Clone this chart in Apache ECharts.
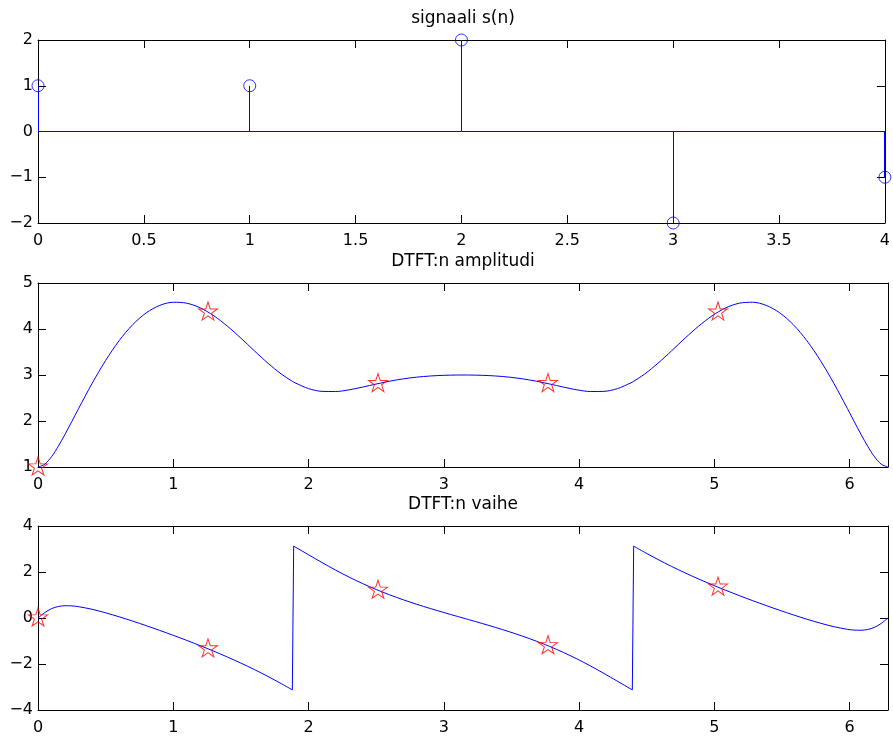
<!DOCTYPE html>
<html>
<head>
<meta charset="utf-8">
<script src="https://cdn.jsdelivr.net/npm/echarts@6/dist/echarts.min.js"></script>
<style>
  html, body { margin: 0; padding: 0; background: #fff; }
  #chart { width: 893px; height: 738px; }
</style>
</head>
<body>
<div id="chart"></div>
<script>
// Signal s(n)
const n = [0, 1, 2, 3, 4];
const s = [1, 1, 2, -2, -1];

// DTFT samples on 0..2*pi (frequency, amplitude, phase)
const freq = [
  0, 0.05, 0.1, 0.15, 0.2, 0.25, 0.3, 0.4, 0.5, 0.6, 0.7, 0.8, 0.9, 1.0,
  1.1, 1.2, 1.3, 1.4, 1.5, 1.6, 1.7, 1.8, 1.88, 1.89, 1.9, 2.0, 2.1, 2.2,
  2.3, 2.4, 2.5, 2.6, 2.7, 2.8, 2.9, 3.0, 3.1, 3.1416,
  3.1832, 3.2832, 3.3832, 3.4832, 3.5832, 3.6832, 3.7832, 3.8832, 3.9832,
  4.0832, 4.1832, 4.2832, 4.3832, 4.3932, 4.4032, 4.4832, 4.5832, 4.6832,
  4.7832, 4.8832, 4.9832, 5.0832, 5.1832, 5.2832, 5.3832, 5.4832, 5.5832,
  5.6832, 5.7832, 5.8832, 5.9832, 6.0332, 6.0832, 6.1332, 6.1832, 6.2332, 6.2832
];
const amplitude = [
  1.0000, 1.0605, 1.2230, 1.4501, 1.7119, 1.9892, 2.2705, 2.8177, 3.3169, 3.7469,
  4.0943, 4.3510, 4.5133, 4.5818, 4.5608, 4.4587, 4.2873, 4.0619, 3.8008, 3.5247,
  3.2562, 3.0179, 2.8625, 2.8457, 2.8296, 2.7041, 2.6440, 2.6407, 2.6779, 2.7376,
  2.8038, 2.8654, 2.9160, 2.9535, 2.9785, 2.9931, 2.9994, 3.0000,
  2.9994, 2.9931, 2.9785, 2.9535, 2.9160, 2.8654, 2.8038, 2.7376, 2.6779,
  2.6407, 2.6440, 2.7041, 2.8296, 2.8457, 2.8625, 3.0179, 3.2562, 3.5247,
  3.8008, 4.0619, 4.2873, 4.4587, 4.5608, 4.5818, 4.5133, 4.3510, 4.0943,
  3.7469, 3.3169, 2.8177, 2.2705, 1.9892, 1.7119, 1.4501, 1.2230, 1.0605, 1.0000
];
const phase = [
  0.0000, 0.2359, 0.4063, 0.4991, 0.5325, 0.5259, 0.4927, 0.3779, 0.2256, 0.0519,
  -0.1357, -0.3334, -0.5396, -0.7534, -0.9751, -1.2053, -1.4452, -1.6966, -1.9616, -2.2427,
  -2.5418, -2.8593, -3.1249, 3.1246, 3.0907, 2.7489, 2.4091, 2.0823, 1.7766, 1.4956,
  1.2395, 1.0062, 0.7927, 0.5959, 0.4121, 0.2379, 0.0694, 0.0000,
  -0.0694, -0.2379, -0.4121, -0.5959, -0.7927, -1.0062, -1.2395, -1.4956, -1.7766,
  -2.0823, -2.4091, -2.7489, -3.0907, -3.1246, 3.1249, 2.8593, 2.5418, 2.2427,
  1.9616, 1.6966, 1.4452, 1.2053, 0.9751, 0.7534, 0.5396, 0.3334, 0.1357,
  -0.0519, -0.2256, -0.3779, -0.4927, -0.5259, -0.5325, -0.4991, -0.4063, -0.2359, 0.0000
];

// DFT points (5-point)
const dftFreq = [0, 1.2566, 2.5133, 3.7699, 5.0265];
const dftAmp = [1.0000, 4.3692, 2.8124, 2.8124, 4.3692];
const dftPhase = [0.0000, -1.3399, 1.2066, -1.2066, 1.3399];

const titles = ['signaali s(n)', 'DTFT:n amplitudi', 'DTFT:n vaihe'];

const FONT = '"DejaVu Sans", "Liberation Sans", Arial, sans-serif';
const BLUE = '#0000ff';
const RED = '#ff0000';
const STAR = 'path://M50,0 L61.23,34.55 L97.55,34.55 L68.17,55.90 L79.39,90.45 L50,69.1 L20.61,90.45 L31.83,55.90 L2.45,34.55 L38.77,34.55 Z';

const gridTops = [40, 283, 526];
const gridHeights = [183, 184, 184];
const plotLeft = 38, plotRight = 5;

const minus = v => String(v).replace('-', '\u2212');

function axisBase(showLabel, margin) {
  return {
    axisLine: { show: true, onZero: false, lineStyle: { color: '#000', width: 1 } },
    axisTick: { show: true, inside: true, length: 8, lineStyle: { color: '#000', width: 1 } },
    splitLine: { show: false },
    axisLabel: {
      show: showLabel, color: '#000', fontSize: 16, fontFamily: FONT,
      margin: margin, formatter: minus
    }
  };
}

const xRanges = [
  { min: 0, max: 4, interval: 0.5 },
  { min: 0, max: 6.2832, interval: 1 },
  { min: 0, max: 6.2832, interval: 1 }
];
const yRanges = [
  { min: -2, max: 2, interval: 1 },
  { min: 1, max: 5, interval: 1 },
  { min: -4, max: 4, interval: 2 }
];

const grid = gridTops.map((t, i) => ({ left: plotLeft, right: plotRight, top: t, height: gridHeights[i] }));
const xAxis = [];
const yAxis = [];
for (let i = 0; i < 3; i++) {
  const bx = Object.assign({ type: 'value', gridIndex: i, position: 'bottom' }, xRanges[i], axisBase(true, 10));
  bx.axisLabel.showMaxLabel = i === 0;
  xAxis.push(bx);
  xAxis.push(Object.assign({ type: 'value', gridIndex: i, position: 'top' }, xRanges[i], axisBase(false, 10)));
  yAxis.push(Object.assign({ type: 'value', gridIndex: i, position: 'left' }, yRanges[i], axisBase(true, 5)));
  yAxis.push(Object.assign({ type: 'value', gridIndex: i, position: 'right' }, yRanges[i], axisBase(false, 5)));
}

// phase curve split at the 2*pi wraps; each wrap drawn as a straight connector
const phasePts = freq.map((f, i) => [f, phase[i]]);
const phaseSegments = [[phasePts[0]]];
const phaseJumps = [];
for (let i = 1; i < phasePts.length; i++) {
  if (Math.abs(phase[i] - phase[i - 1]) > Math.PI) {
    phaseJumps.push([phasePts[i - 1], phasePts[i]]);
    phaseSegments.push([]);
  }
  phaseSegments[phaseSegments.length - 1].push(phasePts[i]);
}

const lineStyle = { color: BLUE, width: 1 };
const series = [];

// stem plot: baseline, stems and hollow circle heads
series.push({
  type: 'line', xAxisIndex: 0, yAxisIndex: 0, silent: true,
  data: [[n[0], 0], [n[n.length - 1], 0]],
  showSymbol: false, lineStyle: lineStyle, z: 3
});
series.push({
  type: 'custom', xAxisIndex: 0, yAxisIndex: 0, silent: true, clip: false,
  data: n.map((x, i) => [x, s[i]]),
  renderItem: function (params, api) {
    const p0 = api.coord([api.value(0), 0]);
    const p1 = api.coord([api.value(0), api.value(1)]);
    // snap the 1px stem onto a pixel centre so it stays crisp
    const x = Math.round(p0[0] - 0.5) + 0.5;
    return { type: 'line', shape: { x1: x, y1: p0[1], x2: x, y2: p1[1] },
             style: { stroke: BLUE, lineWidth: 1 } };
  },
  z: 3
});
series.push({
  type: 'scatter', xAxisIndex: 0, yAxisIndex: 0, silent: true, clip: false,
  data: n.map((x, i) => [x, s[i]]),
  symbol: 'circle', symbolSize: 12,
  itemStyle: { color: 'rgba(0,0,0,0)', borderColor: BLUE, borderWidth: 1 }, z: 4
});

// amplitude
series.push({
  type: 'line', xAxisIndex: 2, yAxisIndex: 2, silent: true,
  data: freq.map((f, i) => [f, amplitude[i]]),
  showSymbol: false, smooth: 0.3, lineStyle: lineStyle, z: 3
});
series.push({
  type: 'scatter', xAxisIndex: 2, yAxisIndex: 2, silent: true, clip: false,
  data: dftFreq.map((f, i) => [f, dftAmp[i]]),
  symbol: STAR, symbolSize: [19, 18], symbolOffset: [0, -1],
  itemStyle: { color: 'rgba(0,0,0,0)', borderColor: RED, borderWidth: 1 }, z: 4
});

// phase
phaseSegments.forEach(seg => series.push({
  type: 'line', xAxisIndex: 4, yAxisIndex: 4, silent: true,
  data: seg, showSymbol: false, smooth: 0.3, lineStyle: lineStyle, z: 3
}));
phaseJumps.forEach(seg => series.push({
  type: 'line', xAxisIndex: 4, yAxisIndex: 4, silent: true,
  data: seg, showSymbol: false, lineStyle: lineStyle, z: 3
}));
series.push({
  type: 'scatter', xAxisIndex: 4, yAxisIndex: 4, silent: true, clip: false,
  data: dftFreq.map((f, i) => [f, dftPhase[i]]),
  symbol: STAR, symbolSize: [19, 18], symbolOffset: [0, -1],
  itemStyle: { color: 'rgba(0,0,0,0)', borderColor: RED, borderWidth: 1 }, z: 4
});

const plotCenter = plotLeft + (893 - plotLeft - plotRight) / 2;
const graphic = titles.map((t, i) => ({
  type: 'text', x: plotCenter, y: gridTops[i] - 21, silent: true,
  style: { text: t, fill: '#000', font: '17px ' + FONT, align: 'center', verticalAlign: 'middle' }
}));

const chart = echarts.init(document.getElementById('chart'), null, { renderer: 'canvas' });
chart.setOption({
  animation: false,
  backgroundColor: '#fff',
  grid: grid,
  xAxis: xAxis,
  yAxis: yAxis,
  series: series,
  graphic: graphic
});
</script>
</body>
</html>
